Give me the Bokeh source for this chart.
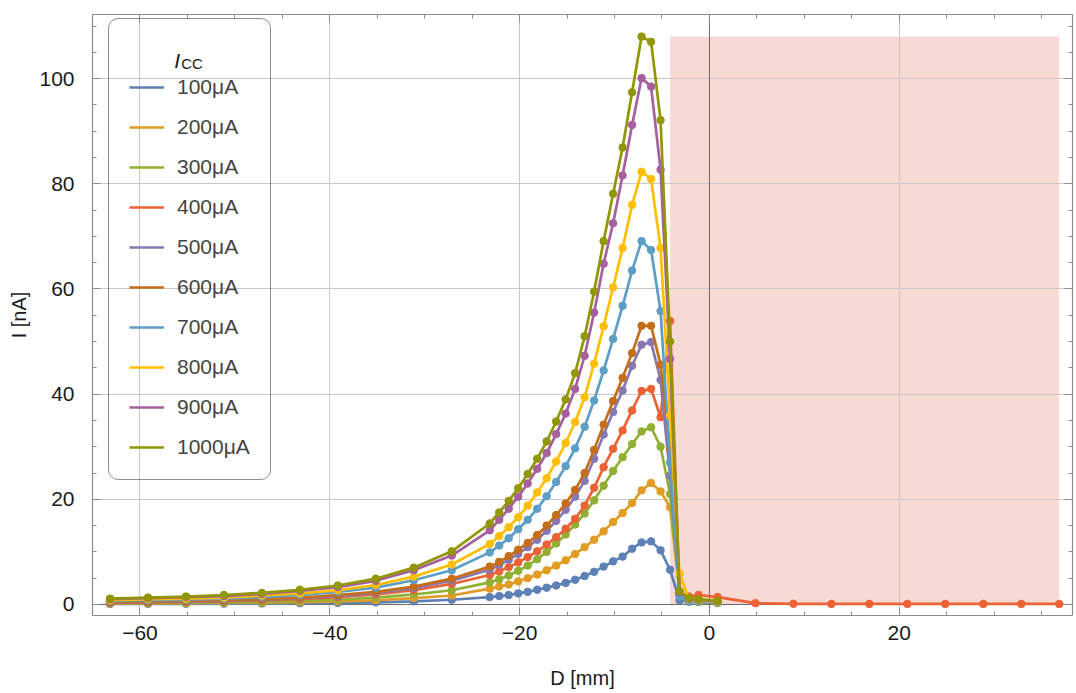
from bokeh.plotting import figure
from bokeh.models import (Range1d, FixedTicker, LinearAxis, Legend, LegendItem, Label, Span)
from bokeh.embed import file_html
from bokeh.resources import INLINE

# ---------------- data ----------------
X = [-63.15, -59.15, -55.15, -51.15, -47.15, -43.15, -39.15, -35.15, -31.15, -27.15,
     -23.15, -22.15, -21.15, -20.15, -19.15, -18.15, -17.15, -16.15, -15.15, -14.15,
     -13.15, -12.15, -11.15, -10.15, -9.15, -8.15, -7.15, -6.15, -5.15, -4.15,
     -3.15, -2.15, -1.15, 0.85]

I100 = [0.1, 0.1, 0.12, 0.15, 0.2, 0.25, 0.3, 0.4, 0.6, 0.9,
        1.4, 1.6, 1.8, 2.1, 2.4, 2.8, 3.2, 3.6, 4.1, 4.7,
        5.4, 6.2, 7.2, 8.2, 9.1, 10.6, 11.8, 12.0, 10.3, 6.6,
        0.8, 0.5, 0.5, 0.3]
I200 = [0.2, 0.2, 0.25, 0.3, 0.35, 0.45, 0.6, 0.8, 1.2, 1.7,
        3.0, 3.4, 3.8, 4.4, 5.0, 5.7, 6.5, 7.4, 8.4, 9.6,
        10.9, 12.3, 13.9, 15.7, 17.4, 19.3, 21.7, 23.1, 21.5, 18.5,
        2.5, 0.6, 0.5, 0.3]
I300 = [0.2, 0.3, 0.35, 0.4, 0.5, 0.7, 0.9, 1.3, 1.9, 2.7,
        4.2, 4.8, 5.5, 6.4, 7.4, 8.6, 10.0, 11.6, 13.3, 15.2,
        17.3, 19.8, 22.6, 25.4, 28.0, 30.5, 32.9, 33.7, 30.0, 21.0,
        2.2, 0.6, 0.5, 0.3]
I400 = [0.3, 0.4, 0.5, 0.6, 0.8, 1.0, 1.4, 1.9, 2.7, 3.9,
        5.6, 6.3, 7.1, 8.0, 9.0, 10.1, 11.4, 12.8, 14.4, 16.3,
        18.8, 22.2, 26.1, 29.6, 33.1, 36.9, 40.6, 41.0, 35.6, 53.9,
        2.0, 1.5, 1.8, 1.4]
I500 = [0.4, 0.5, 0.6, 0.7, 0.9, 1.2, 1.6, 2.2, 3.1, 4.5,
        6.6, 7.5, 8.5, 9.6, 10.9, 12.3, 14.0, 15.9, 18.0, 20.5,
        23.5, 27.7, 32.3, 36.6, 40.7, 45.4, 49.4, 49.9, 42.7, 24.5,
        1.8, 0.7, 0.6, 0.4]
I600 = [0.5, 0.6, 0.7, 0.8, 1.0, 1.3, 1.8, 2.4, 3.4, 4.9,
        7.2, 8.1, 9.2, 10.4, 11.7, 13.2, 15.0, 17.0, 19.2, 21.8,
        25.0, 29.4, 34.2, 38.7, 43.1, 47.8, 53.0, 53.0, 45.6, 29.6,
        2.0, 0.8, 0.7, 0.5]
I700 = [0.7, 0.8, 0.9, 1.1, 1.4, 1.8, 2.4, 3.2, 4.6, 6.5,
        9.9, 11.2, 12.6, 14.3, 16.1, 18.2, 20.6, 23.3, 26.3, 29.7,
        33.8, 38.8, 44.5, 50.5, 56.8, 63.5, 69.1, 67.4, 55.8, 27.0,
        1.5, 0.6, 0.6, 0.4]
I800 = [0.8, 1.0, 1.1, 1.3, 1.7, 2.1, 2.7, 3.7, 5.3, 7.6,
        11.5, 13.0, 14.7, 16.6, 18.8, 21.3, 24.0, 27.2, 30.7, 34.7,
        39.4, 45.8, 52.9, 60.3, 67.8, 76.0, 82.3, 80.9, 67.8, 35.9,
        5.9, 1.0, 0.8, 0.5]
I900 = [1.0, 1.2, 1.4, 1.6, 2.0, 2.6, 3.3, 4.5, 6.5, 9.3,
        14.1, 16.1, 18.2, 20.5, 23.0, 25.8, 28.8, 32.4, 36.3, 41.0,
        47.3, 55.5, 64.8, 72.5, 81.6, 91.2, 100.1, 98.5, 82.7, 46.7,
        2.3, 1.1, 0.9, 0.6]
I1000 = [1.1, 1.3, 1.5, 1.8, 2.2, 2.8, 3.6, 4.9, 7.0, 10.1,
         15.4, 17.5, 19.7, 22.1, 24.8, 27.7, 31.0, 34.8, 39.0, 44.0,
         51.0, 59.5, 69.1, 78.1, 86.9, 97.4, 108.0, 107.0, 92.1, 50.0,
         2.5, 1.2, 1.0, 0.7]

# the 400 uA run continues further
X_TAIL = [4.85, 8.85, 12.85, 16.85, 20.85, 24.85, 28.85, 32.85, 36.85]
I400_TAIL = [0.25, 0.12, 0.1, 0.1, 0.1, 0.1, 0.1, 0.1, 0.1]

LABELS = ["100μA", "200μA", "300μA", "400μA", "500μA",
          "600μA", "700μA", "800μA", "900μA", "1000μA"]
SERIES = [I100, I200, I300, I400, I500, I600, I700, I800, I900, I1000]
COLORS = ["#5E81B5", "#E19C24", "#8FB032", "#EB6235", "#8778B3",
          "#C56E1A", "#5D9EC7", "#FFBF00", "#A5609D", "#929600"]

SHADE_X = [-4.15, 36.85]
SHADE_Y = [0.0, 108.0]

X_TICKS = [-60, -40, -20, 0, 20]
Y_TICKS = [0, 20, 40, 60, 80, 100]

FONT = "Liberation Sans"

# ---------------- figure ----------------
p = figure(width=1076, height=693, output_backend="svg", toolbar_location=None,
           x_range=Range1d(-65.0, 38.25), y_range=Range1d(-2.1, 112.2),
           min_border_left=92, min_border_right=4, min_border_top=14, min_border_bottom=78)
p.outline_line_color = None
p.background_fill_color = "white"
p.border_fill_color = "white"

# shaded region
shade = p.quad(left=SHADE_X[0], right=SHADE_X[1], bottom=SHADE_Y[0], top=SHADE_Y[1],
               fill_color="#F8DAD4", line_color=None)
shade.level = "image"

# grid
p.xgrid.ticker = FixedTicker(ticks=[t for t in X_TICKS if t != 0])
p.ygrid.ticker = FixedTicker(ticks=Y_TICKS)
p.xgrid.grid_line_color = "#c8c8c8"
p.ygrid.grid_line_color = "#c8c8c8"
p.xgrid.grid_line_width = 1
p.ygrid.grid_line_width = 1

p.add_layout(Span(location=0, dimension="height", line_color="#6a6a6a", line_width=1, level="underlay"))
p.add_layout(Span(location=0, dimension="width", line_color="#6a6a6a", line_width=1, level="underlay"))

minor_x = [v for v in range(-65, 40, 5) if v not in X_TICKS]
minor_y = [v for v in range(0, 115, 5) if v not in Y_TICKS]
xt = FixedTicker(ticks=X_TICKS, minor_ticks=minor_x)
yt = FixedTicker(ticks=Y_TICKS, minor_ticks=minor_y)


def style_axis(ax):
    ax.axis_line_color = "#8c8c8c"
    ax.axis_line_width = 1.2
    ax.major_tick_line_color = "#8c8c8c"
    ax.minor_tick_line_color = "#8c8c8c"
    ax.major_tick_in = 8
    ax.major_tick_out = 0
    ax.minor_tick_in = 4
    ax.minor_tick_out = 0
    ax.major_label_text_font = FONT
    ax.major_label_text_font_size = "21px"
    ax.major_label_text_color = "#1a1a1a"
    ax.axis_label_text_font = FONT
    ax.axis_label_text_font_size = "20px"
    ax.axis_label_text_font_style = "normal"
    ax.axis_label_text_color = "#1a1a1a"


p.xaxis.ticker = xt
p.yaxis.ticker = yt
style_axis(p.xaxis[0])
style_axis(p.yaxis[0])
p.xaxis.axis_label = "D [mm]"
p.yaxis.axis_label = "I [nA]"
p.xaxis.major_label_standoff = 10
p.yaxis.major_label_standoff = 18
p.xaxis.axis_label_standoff = 24
p.yaxis.axis_label_standoff = 6
p.xaxis.major_label_overrides = {t: (("\u2212" + str(-t)) if t < 0 else str(t)) for t in X_TICKS}

top_ax = LinearAxis(ticker=FixedTicker(ticks=X_TICKS, minor_ticks=minor_x))
style_axis(top_ax)
top_ax.major_label_overrides = {t: "" for t in X_TICKS}
top_ax.major_label_standoff = 0
p.add_layout(top_ax, "above")
right_ax = LinearAxis(ticker=FixedTicker(ticks=Y_TICKS, minor_ticks=minor_y))
style_axis(right_ax)
right_ax.major_label_overrides = {t: "" for t in Y_TICKS}
right_ax.major_label_standoff = 0
p.add_layout(right_ax, "right")

# data
items = []
for lab, ys, col in zip(LABELS, SERIES, COLORS):
    xs = list(X)
    yv = list(ys)
    if ys is I400:
        xs = xs + X_TAIL
        yv = yv + I400_TAIL
    ln = p.line(xs, yv, line_color=col, line_width=2.7)
    p.scatter(xs, yv, size=7.5, fill_color=col, line_color=col)
    items.append(LegendItem(label=lab, renderers=[ln]))

legend = Legend(items=items, location=(16, 135), title=" ",
                label_text_font=FONT, label_text_font_size="21px",
                title_text_font=FONT, title_text_font_size="19px",
                glyph_width=35, glyph_height=24, label_height=24, spacing=16,
                label_standoff=13, padding=20, title_standoff=14,
                border_line_color="#222222", border_line_width=1.5,
                background_fill_color="white", background_fill_alpha=0.0)
try:
    legend.border_radius = 10
except Exception:
    pass
p.add_layout(legend, "center")

lab_i = Label(x=-56.4, y=103.4, text="I", text_font=FONT, text_font_size="21px",
              text_font_style="italic", text_color="#1a1a1a", text_baseline="alphabetic")
lab_cc = Label(x=-55.65, y=102.8, text="CC", text_font=FONT, text_font_size="15px",
               text_color="#1a1a1a", text_baseline="alphabetic")
p.add_layout(lab_i)
p.add_layout(lab_cc)

open("out.html", "w").write(file_html(p, INLINE))
